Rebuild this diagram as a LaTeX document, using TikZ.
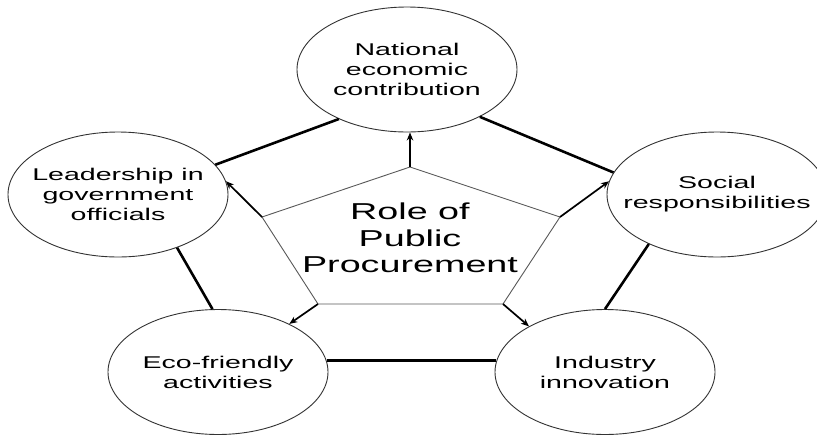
\documentclass[tikz,border=0pt]{standalone}
\usepackage{fontspec}
\setmainfont{Liberation Sans}
\newfontfamily\ellfont[FakeStretch=1.68]{Liberation Sans}
\newfontfamily\ttlfont[FakeStretch=1.64]{Liberation Sans}
\usetikzlibrary{shapes.geometric,arrows.meta}
\begin{document}
\begin{tikzpicture}[x=1pt,y=-1pt,
  oval/.style={ellipse, draw=black!80, line width=0.9pt, minimum width=220pt, minimum height=125pt, inner sep=0pt},
  ovaltext/.style={align=center, font=\ellfont\fontsize{17}{20}\selectfont, inner sep=0pt},
  titletext/.style={align=center, font=\ttlfont\fontsize{23}{26.5}\selectfont, inner sep=0pt},
  link/.style={line width=2.6pt, black},
  penta/.style={draw=black!65, line width=0.9pt},
  ray/.style={line width=1.7pt, black, -{Stealth[length=8pt,width=6.5pt]}}]
\useasboundingbox (0,0) rectangle (817,437);
\fill[white] (0,0) rectangle (817,437);
% ellipses
\node[oval] (N) at (407,69.5) {};
\node[ovaltext] (Nt) at (N) {National\\economic\\contribution};
\node[oval] (L) at (118,194.5) {};
\node[ovaltext] (Lt) at (L) {Leadership in\\government\\officials};
\node[oval] (R) at (717,194.5) {};
\node[ovaltext] (Rt) at (R) {Social\\responsibilities};
\node[oval] (E) at (218,372) {};
\node[ovaltext] (Et) at (E) {Eco-friendly\\activities};
\node[oval] (I) at (605,372) {};
\node[ovaltext] (It) at (I) {Industry\\innovation};
% pentagon
\coordinate (pT) at (410,167);
\coordinate (pR) at (560,217);
\coordinate (pBR) at (503,304);
\coordinate (pBL) at (318,304);
\coordinate (pL) at (262,217);
\draw[penta] (pT) -- (pR) -- (pBR) -- (pBL) -- (pL) -- cycle;
\node[titletext] (T) at (410,238) {Role of\\Public\\Procurement};
% arrows
\draw[ray] (pT) -- (pT |- N.south);
\draw[ray] (pL) -- (L.7);
\draw[ray] (pR) -- (R.173);
\draw[ray] (pBL) -- (E.34);
\draw[ray] (pBR) -- (I.149);
% links
\draw[link] (L.17) -- (N.216);
\draw[link] (N.-33) -- (R.168);
\draw[link] (L.-42) -- (E.95);
\draw[link] (R.216) -- (I.90);
\draw[link] (E.6) -- (I.174);
\end{tikzpicture}
\end{document}
